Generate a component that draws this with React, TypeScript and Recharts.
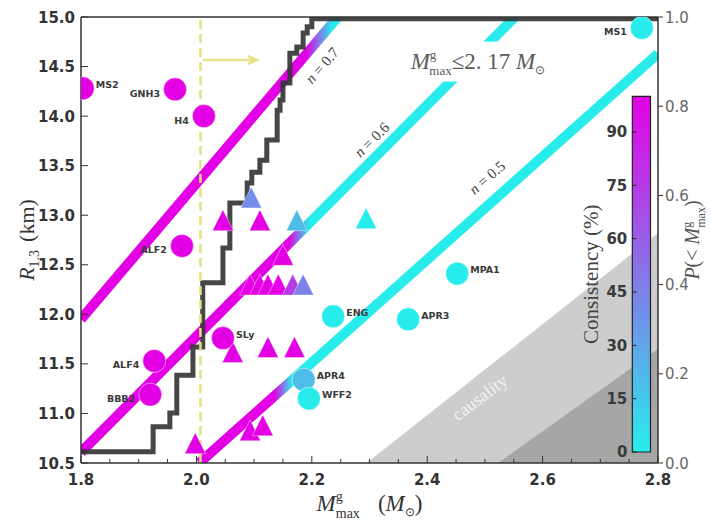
import React from 'react';
import {
  ComposedChart, XAxis, YAxis, Line, Area, Scatter,
  ReferenceLine, ReferenceArea, ReferenceDot,
} from 'recharts';

// axes
const massTicks = [1.8, 1.85, 1.9, 1.95, 2.0, 2.05, 2.1, 2.15, 2.2, 2.25, 2.3, 2.35, 2.4, 2.45, 2.5, 2.55, 2.6, 2.65, 2.7, 2.75, 2.8];
const radiusTicks = [10.5, 11.0, 11.5, 12.0, 12.5, 13.0, 13.5, 14.0, 14.5, 15.0];
const probTicks = [0, 0.2, 0.4, 0.6, 0.8, 1.0];
const consistencyTicks = [0, 15, 30, 45, 60, 75, 90];

// EOS models (circles), consistency in %
const eosNames = ['MS2', 'GNH3', 'H4', 'ALF2', 'SLy', 'ALF4', 'BBB2', 'ENG', 'APR3', 'MPA1', 'APR4', 'WFF2', 'MS1'];
const eosMass = [1.803, 1.963, 2.013, 1.975, 2.046, 1.927, 1.92, 2.237, 2.367, 2.452, 2.186, 2.195, 2.772];
const eosRadius = [14.28, 14.27, 14.0, 12.69, 11.76, 11.53, 11.19, 11.98, 11.95, 12.41, 11.34, 11.15, 14.89];
const eosConsistency = [100, 100, 100, 100, 100, 100, 100, 0, 0, 0, 20, 0, 0];
const labelLeft = ['GNH3', 'H4', 'ALF2', 'ALF4', 'BBB2', 'MS1'];

// other models (triangles)
const triMass = [2.095, 2.046, 2.11, 2.174, 2.294, 2.15, 2.093, 2.11, 2.124, 2.142, 2.167, 2.185, 2.063, 2.124, 2.17, 1.998, 2.093, 2.115];
const triRadius = [13.18, 12.95, 12.95, 12.95, 12.97, 12.6, 12.3, 12.3, 12.3, 12.3, 12.3, 12.3, 11.62, 11.67, 11.67, 10.7, 10.83, 10.88];
const triConsistency = [40, 100, 100, 20, 0, 100, 100, 100, 100, 100, 75, 45, 100, 100, 100, 100, 100, 100];

// n lines: end points and the mass range where colour fades magenta -> cyan
const n07Mass = [1.8, 2.245];
const n07Radius = [11.95, 15.0];
const n07Fade = [2.19, 2.235];
const n06Mass = [1.8, 2.552];
const n06Radius = [10.61, 15.0];
const n06Fade = [2.16, 2.195];
const n05Mass = [2.005, 2.8];
const n05Radius = [10.5, 14.63];
const n05Fade = [2.135, 2.165];

// cumulative P(< M) step
const stepMass = [1.8, 1.925, 1.954, 1.966, 1.994, 2.011, 2.046, 2.058, 2.088, 2.096, 2.11, 2.122, 2.14, 2.145, 2.15, 2.162, 2.174, 2.185, 2.192, 2.2, 2.8];
const stepProb = [0.025, 0.081, 0.112, 0.197, 0.26, 0.404, 0.482, 0.583, 0.628, 0.652, 0.679, 0.724, 0.791, 0.814, 0.852, 0.919, 0.933, 0.964, 0.978, 0.996, 0.996];

// causality regions
const causalLightMass = [2.295, 2.8];
const causalLightRadius = [10.5, 12.82];
const causalDarkMass = [2.523, 2.8];
const causalDarkRadius = [10.5, 11.65];

const observedMass = 2.007;
const arrowMass = [2.011, 2.105];
const arrowRadius = 14.566;

// colorbar placement (mass range, and P-axis span of 0..100 %)
const cbMass = [2.7555, 2.787];
const cbProb = [0.0247, 0.822];
const cbToP = (v: number) => cbProb[0] + (v / 100) * (cbProb[1] - cbProb[0]);

const cool = (c: number) => {
  const t = c / 100;
  const lo = [40, 236, 236];
  const hi = [228, 0, 228];
  const ch = lo.map((v, i) => Math.round(v + (hi[i] - v) * t));
  return `rgb(${ch.join(',')})`;
};

const pairs = (m: number[], r: number[]) => m.map((x, i) => ({ m: x, r: r[i] }));

const eosData = eosNames.map((name, i) => ({ name, m: eosMass[i], r: eosRadius[i], c: eosConsistency[i] }));
const triData = triMass.map((m, i) => ({ m, r: triRadius[i], c: triConsistency[i] }));
const stepData = stepMass.map((m, i) => ({ m, p: stepProb[i] }));
const arrowData = arrowMass.map((m) => ({ m, r: arrowRadius }));

const nLines = [
  { id: 'n07', mass: n07Mass, radius: n07Radius, fade: n07Fade },
  { id: 'n06', mass: n06Mass, radius: n06Radius, fade: n06Fade },
  { id: 'n05', mass: n05Mass, radius: n05Radius, fade: n05Fade },
];

const AXIS = '#333';
const SANS = 'DejaVu Sans';
const SERIF = 'Liberation Serif';

function BottomTick(props: any) {
  const { x, y, payload } = props;
  const v = payload.value;
  const major = Math.abs(v * 5 - Math.round(v * 5)) < 1e-6;
  return (
    <g>
      <line x1={x} y1={y} x2={x} y2={y - (major ? 7 : 4)} stroke={AXIS} />
      {major && (
        <text x={x} y={y + 22} textAnchor="middle" fontFamily={SANS} fontWeight="bold" fontSize={15} fill="#333">
          {v.toFixed(1)}
        </text>
      )}
    </g>
  );
}

function TopTick(props: any) {
  const { x, y, payload } = props;
  const v = payload.value;
  const major = Math.abs(v * 5 - Math.round(v * 5)) < 1e-6;
  return <line x1={x} y1={y} x2={x} y2={y + (major ? 7 : 4)} stroke={AXIS} />;
}

function LeftTick(props: any) {
  const { x, y, payload } = props;
  return (
    <g>
      <line x1={x} y1={y} x2={x + 7} y2={y} stroke={AXIS} />
      <text x={x - 6} y={y + 5.5} textAnchor="end" fontFamily={SANS} fontWeight="bold" fontSize={15} fill="#333">
        {payload.value.toFixed(1)}
      </text>
    </g>
  );
}

function RightTick(props: any) {
  const { x, y, payload } = props;
  return (
    <g>
      <line x1={x} y1={y} x2={x + 5} y2={y} stroke={AXIS} />
      <text x={x + 7} y={y + 5.5} textAnchor="start" fontFamily={SANS} fontSize={15} fill="#666">
        {payload.value.toFixed(1)}
      </text>
    </g>
  );
}

function EosMarker(props: any) {
  const { cx, cy, payload } = props;
  const left = labelLeft.includes(payload.name);
  return (
    <g>
      <circle cx={cx} cy={cy} r={11.5} fill={cool(payload.c)} stroke="#fff" strokeOpacity={0.6} strokeWidth={0.8} />
      <text
        x={left ? cx - 15 : cx + 13}
        y={left ? cy + 7.5 : cy - 0.5}
        textAnchor={left ? 'end' : 'start'}
        fontFamily={SANS}
        fontWeight="bold"
        fontSize={9.5}
        fill="#3a3a3a"
      >
        {payload.name}
      </text>
    </g>
  );
}

function TriMarker(props: any) {
  const { cx, cy, payload } = props;
  const h = 10.5;
  return (
    <polygon
      points={`${cx},${cy - h} ${cx - h},${cy + h} ${cx + h},${cy + h}`}
      fill={cool(payload.c)}
      stroke="#fff"
      strokeOpacity={0.5}
      strokeWidth={0.8}
    />
  );
}

const rotated = (text: string, angle: number, size = 15) => (props: any) => {
  const { cx, cy } = props;
  return (
    <text
      x={cx}
      y={cy}
      transform={`rotate(${angle} ${cx} ${cy})`}
      textAnchor="middle"
      dominantBaseline="central"
      fontFamily={SERIF}
      fontSize={size}
      fill="#444"
    >
      <tspan fontStyle="italic">n</tspan>
      {text}
    </text>
  );
};

function LimitBox(props: any) {
  const { cx, cy } = props;
  return (
    <g>
      <rect x={cx - 86} y={cy - 20} width={174} height={40} fill="#fff" />
      <text x={cx} y={cy + 7} textAnchor="middle" fontFamily={SERIF} fontSize={23} fill="#5a5a5a">
        <tspan fontStyle="italic">M</tspan>
        <tspan fontSize={13} dy={-10}>g</tspan>
        <tspan fontSize={13} dx={-7} dy={16}>max</tspan>
        <tspan dy={-6}>≤2. 17 </tspan>
        <tspan fontStyle="italic">M</tspan>
        <tspan fontSize={12} dy={5}>⊙</tspan>
      </text>
    </g>
  );
}

function CausalityText(props: any) {
  const { cx, cy } = props;
  return (
    <text
      x={cx}
      y={cy}
      transform={`rotate(-37 ${cx} ${cy})`}
      textAnchor="middle"
      dominantBaseline="central"
      fontFamily={SERIF}
      fontSize={18}
      fill="#f2f2f2"
    >
      causality
    </text>
  );
}

function CbTick(props: any) {
  const { cx, cy, label } = props;
  return (
    <g>
      <line x1={cx} y1={cy} x2={cx + 4} y2={cy} stroke="#222" />
      <text x={cx - 5} y={cy + 5.5} textAnchor="end" fontFamily={SANS} fontWeight="bold" fontSize={15} fill="#3a3a3a">
        {label}
      </text>
    </g>
  );
}

function CbLabel(props: any) {
  const { cx, cy } = props;
  return (
    <text
      x={cx}
      y={cy}
      transform={`rotate(-90 ${cx} ${cy})`}
      textAnchor="middle"
      fontFamily={SERIF}
      fontSize={21}
      fill="#444"
    >
      Consistency (%)
    </text>
  );
}

function ArrowDot(props: any) {
  const { cx, cy, index } = props;
  if (index !== 1) return <g key={`a${index}`} />;
  return (
    <polyline
      key={`a${index}`}
      points={`${cx - 9},${cy - 4} ${cx},${cy} ${cx - 9},${cy + 4}`}
      fill="none"
      stroke="#e4e48a"
      strokeWidth={2.5}
    />
  );
}

function XLabel(props: any) {
  const { viewBox } = props;
  const x = viewBox.x + viewBox.width / 2;
  const y = viewBox.y + 48;
  return (
    <text x={x} y={y} textAnchor="middle" fontFamily={SERIF} fontSize={23} fill="#333">
      <tspan fontStyle="italic">M</tspan>
      <tspan fontSize={14} dy={-10}>g</tspan>
      <tspan fontSize={14} dx={-7} dy={17}>max</tspan>
      <tspan dy={-7} dx={18}>(</tspan>
      <tspan fontStyle="italic">M</tspan>
      <tspan fontSize={12} dy={5}>⊙</tspan>
      <tspan dy={-5}>)</tspan>
    </text>
  );
}

function RLabel(props: any) {
  const { viewBox } = props;
  const x = viewBox.x + viewBox.width - 47;
  const y = viewBox.y + viewBox.height / 2;
  return (
    <text x={x} y={y} transform={`rotate(-90 ${x} ${y})`} textAnchor="middle" fontFamily={SERIF} fontSize={22} fill="#333">
      <tspan fontStyle="italic">R</tspan>
      <tspan fontSize={14} dy={5}>1.3</tspan>
      <tspan dy={-5} dx={8}>(km)</tspan>
    </text>
  );
}

function PLabel(props: any) {
  const { viewBox } = props;
  const x = viewBox.x + 41;
  const y = viewBox.y + viewBox.height / 2;
  return (
    <text x={x} y={y} transform={`rotate(-90 ${x} ${y})`} textAnchor="middle" fontFamily={SERIF} fontSize={20} fill="#555">
      <tspan fontStyle="italic">P</tspan>
      <tspan>(&lt; </tspan>
      <tspan fontStyle="italic">M</tspan>
      <tspan fontSize={12} dy={-8}>g</tspan>
      <tspan fontSize={12} dx={-6} dy={14}>max</tspan>
      <tspan dy={-6}>)</tspan>
    </text>
  );
}

const fadeOffset = (mass: number[], m: number) => (m - mass[0]) / (mass[1] - mass[0]);

export default function App() {
  return (
    <div style={{ position: 'fixed', left: 0, top: 0, width: 711, height: 520, background: '#fff' }}>
      <ComposedChart width={711} height={520} margin={{ top: 16, right: 52, bottom: 56, left: 80 }} style={{ fontFamily: SANS }}>
        <defs>
          <linearGradient id="cbGrad" x1="0" y1="1" x2="0" y2="0">
            <stop offset="0" stopColor={cool(0)} />
            <stop offset="1" stopColor={cool(100)} />
          </linearGradient>
          {nLines.map((l) => (
            <linearGradient key={l.id} id={l.id} x1="0" y1="0" x2="1" y2="0">
              <stop offset={fadeOffset(l.mass, l.fade[0])} stopColor={cool(100)} />
              <stop offset={fadeOffset(l.mass, l.fade[1])} stopColor={cool(0)} />
            </linearGradient>
          ))}
        </defs>

        <XAxis
          dataKey="m"
          type="number"
          domain={[1.8, 2.8]}
          ticks={massTicks}
          interval={0}
          allowDataOverflow
          height={1}
          tickSize={0}
          tickMargin={0}
          tickLine={false}
          tick={(p: any) => <BottomTick {...p} />}
          axisLine={{ stroke: AXIS, strokeWidth: 1.5 }}
          label={(p: any) => <XLabel {...p} />}
        />
        <XAxis
          xAxisId="t"
          orientation="top"
          type="number"
          domain={[1.8, 2.8]}
          ticks={massTicks}
          interval={0}
          allowDataOverflow
          height={1}
          tickSize={0}
          tickMargin={0}
          tickLine={false}
          tick={(p: any) => <TopTick {...p} />}
          axisLine={{ stroke: AXIS, strokeWidth: 1.5 }}
        />
        <YAxis
          type="number"
          domain={[10.5, 15]}
          ticks={radiusTicks}
          interval={0}
          allowDataOverflow
          width={1}
          tickSize={0}
          tickMargin={0}
          tickLine={false}
          tick={(p: any) => <LeftTick {...p} />}
          axisLine={{ stroke: AXIS, strokeWidth: 1.5 }}
          label={(p: any) => <RLabel {...p} />}
        />
        <YAxis
          yAxisId="p"
          orientation="right"
          type="number"
          domain={[0, 1]}
          ticks={probTicks}
          interval={0}
          allowDataOverflow
          width={1}
          tickSize={0}
          tickMargin={0}
          tickLine={false}
          tick={(p: any) => <RightTick {...p} />}
          axisLine={{ stroke: AXIS, strokeWidth: 1.5 }}
          label={(p: any) => <PLabel {...p} />}
        />

        <Area data={pairs(causalLightMass, causalLightRadius)} dataKey="r" type="linear" baseValue={10.5}
          fill="#cdcdcd" fillOpacity={1} stroke="none" isAnimationActive={false} />
        <Area data={pairs(causalDarkMass, causalDarkRadius)} dataKey="r" type="linear" baseValue={10.5}
          fill="#a6a6a6" fillOpacity={1} stroke="none" isAnimationActive={false} />

        {nLines.map((l) => (
          <Line key={l.id} data={pairs(l.mass, l.radius)} dataKey="r" type="linear" stroke={`url(#${l.id})`}
            strokeWidth={10} strokeLinecap="butt" dot={false} activeDot={false} isAnimationActive={false} />
        ))}

        <Line yAxisId="p" data={stepData} dataKey="p" type="stepAfter" stroke="#363636" strokeOpacity={0.92}
          strokeWidth={5} strokeLinejoin="miter" dot={false} activeDot={false} isAnimationActive={false} />

        <ReferenceLine x={observedMass} stroke="#e2e27e" strokeWidth={2.5} strokeDasharray="9 5" />
        <Line data={arrowData} dataKey="r" stroke="#e4e48a" strokeWidth={2.5} dot={(p: any) => <ArrowDot key={p.index} {...p} />}
          activeDot={false} isAnimationActive={false} />

        <Scatter data={triData} dataKey="r" shape={(p: any) => <TriMarker {...p} />} isAnimationActive={false} />
        <Scatter data={eosData} dataKey="r" shape={(p: any) => <EosMarker {...p} />} isAnimationActive={false} />

        <ReferenceDot x={2.488} y={14.55} shape={(p: any) => <LimitBox {...p} />} />
        <ReferenceDot x={2.218} y={14.51} shape={rotated(' = 0.7', -49)} />
        <ReferenceDot x={2.304} y={13.76} shape={rotated(' = 0.6', -45)} />
        <ReferenceDot x={2.504} y={13.38} shape={rotated(' = 0.5', -41)} />
        <ReferenceDot x={2.491} y={11.16} shape={(p: any) => <CausalityText {...p} />} />

        <ReferenceArea x1={cbMass[0]} x2={cbMass[1]} y1={cbToP(0)} y2={cbToP(100)} yAxisId="p" fill="url(#cbGrad)"
          fillOpacity={1} stroke="#222" strokeWidth={1.2} />
        {consistencyTicks.map((t) => (
          <ReferenceDot key={t} x={cbMass[0]} y={cbToP(t)} yAxisId="p" shape={(p: any) => <CbTick {...p} label={t} />} />
        ))}
        <ReferenceDot x={2.696} y={cbToP(50)} yAxisId="p" shape={(p: any) => <CbLabel {...p} />} />
      </ComposedChart>
    </div>
  );
}
